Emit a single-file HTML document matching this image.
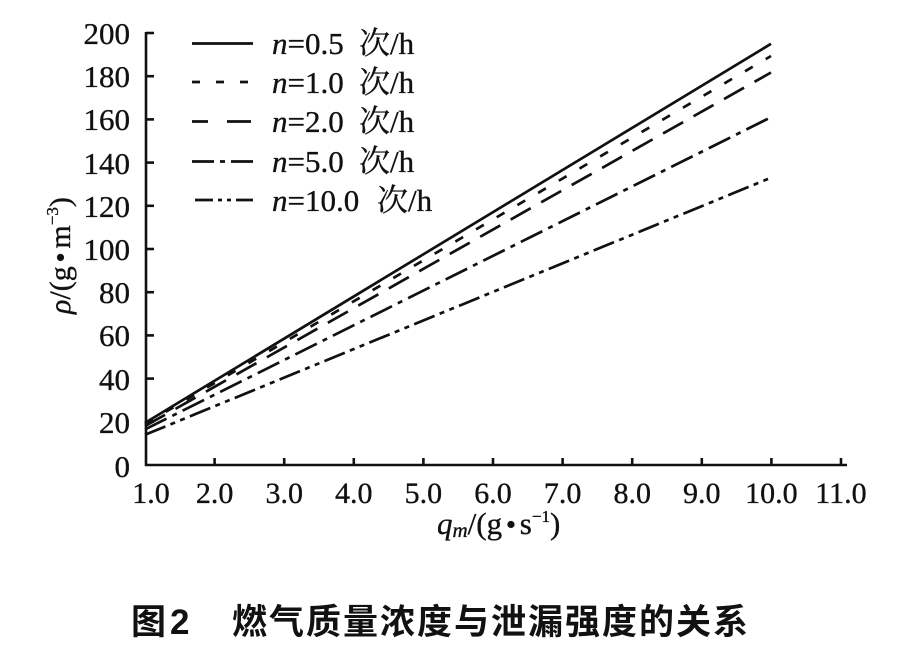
<!DOCTYPE html>
<html><head><meta charset="utf-8">
<style>
html,body{margin:0;padding:0;background:#fff;}
svg{display:block;}
.t{font-family:"Liberation Serif","Noto Serif CJK SC",serif;fill:#111;stroke:#111;stroke-width:0.35;}
.cn{font-family:"Liberation Serif","Noto Serif CJK SC",serif;}
.title{font-family:"Liberation Sans","Noto Sans CJK SC",sans-serif;font-weight:700;fill:#111;}
</style></head>
<body>
<svg width="907" height="651" viewBox="0 0 907 651" xmlns="http://www.w3.org/2000/svg">
<rect width="907" height="651" fill="#fff"/>
<!-- axes -->
<g stroke="#111" stroke-width="2.6" fill="none">
  <line x1="146" y1="32" x2="146" y2="466"/>
  <line x1="145" y1="465" x2="847" y2="465"/>
  <line x1="146" y1="33" x2="154" y2="33"/>
  <line x1="146" y1="76.2" x2="154" y2="76.2"/>
  <line x1="146" y1="119.4" x2="154" y2="119.4"/>
  <line x1="146" y1="162.6" x2="154" y2="162.6"/>
  <line x1="146" y1="205.8" x2="154" y2="205.8"/>
  <line x1="146" y1="249" x2="154" y2="249"/>
  <line x1="146" y1="292.2" x2="154" y2="292.2"/>
  <line x1="146" y1="335.4" x2="154" y2="335.4"/>
  <line x1="146" y1="378.6" x2="154" y2="378.6"/>
  <line x1="146" y1="421.8" x2="154" y2="421.8"/>
  <line x1="214.6" y1="465" x2="214.6" y2="458"/>
  <line x1="284.2" y1="465" x2="284.2" y2="458"/>
  <line x1="353.8" y1="465" x2="353.8" y2="458"/>
  <line x1="423.4" y1="465" x2="423.4" y2="458"/>
  <line x1="493" y1="465" x2="493" y2="458"/>
  <line x1="562.6" y1="465" x2="562.6" y2="458"/>
  <line x1="632.2" y1="465" x2="632.2" y2="458"/>
  <line x1="701.8" y1="465" x2="701.8" y2="458"/>
  <line x1="771.4" y1="465" x2="771.4" y2="458"/>
  <line x1="841" y1="465" x2="841" y2="458"/>
</g>
<!-- y tick labels -->
<g class="t" font-size="31" text-anchor="end">
  <text x="130" y="44">200</text>
  <text x="130" y="87">180</text>
  <text x="130" y="130">160</text>
  <text x="130" y="174">140</text>
  <text x="130" y="217">120</text>
  <text x="130" y="260">100</text>
  <text x="130" y="303">80</text>
  <text x="130" y="346">60</text>
  <text x="130" y="390">40</text>
  <text x="130" y="433">20</text>
  <text x="130" y="477">0</text>
</g>
<!-- x tick labels -->
<g class="t" font-size="30" text-anchor="middle">
  <text x="151" y="503">1.0</text>
  <text x="214.6" y="503">2.0</text>
  <text x="284.2" y="503">3.0</text>
  <text x="353.8" y="503">4.0</text>
  <text x="423.4" y="503">5.0</text>
  <text x="493" y="503">6.0</text>
  <text x="562.6" y="503">7.0</text>
  <text x="632.2" y="503">8.0</text>
  <text x="701.8" y="503">9.0</text>
  <text x="771.4" y="503">10.0</text>
  <text x="841" y="503">11.0</text>
</g>
<!-- axis labels -->
<text class="t" x="437" y="534" font-size="31"><tspan font-style="italic">q</tspan><tspan font-style="italic" font-size="21" dy="3">m</tspan><tspan dy="-3">/(g</tspan><tspan font-size="16" dy="-5"> ● </tspan><tspan dy="5">s</tspan><tspan font-size="17" dy="-12">−1</tspan><tspan dy="12">)</tspan></text>
<text class="t" transform="translate(70,314) rotate(-90)" font-size="30"><tspan font-style="italic">ρ</tspan><tspan>/(g</tspan><tspan font-size="16" dy="-5"> ● </tspan><tspan dy="5">m</tspan><tspan font-size="17" dy="-12">−3</tspan><tspan dy="12">)</tspan></text>
<!-- series -->
<g stroke="#111" stroke-width="2.7" fill="none" stroke-linecap="butt">
  <line x1="145" y1="422.9" x2="771" y2="43.8"/>
  <line x1="145" y1="424" x2="771" y2="56" stroke-dasharray="9 15"/>
  <line x1="145" y1="426.1" x2="771" y2="72.5" stroke-dasharray="23 12"/>
  <line x1="145" y1="429.4" x2="771" y2="117.2" stroke-dasharray="24 6.5 5 6.5"/>
  <line x1="145" y1="434.8" x2="771" y2="177.7" stroke-dasharray="22 5.5 5 5.5 5 5.5"/>
</g>
<!-- legend -->
<g stroke="#111" stroke-width="2.7" fill="none">
  <line x1="192" y1="43.5" x2="253" y2="43.5"/>
  <line x1="192" y1="82" x2="253" y2="82" stroke-dasharray="8 16"/>
  <line x1="192" y1="121.5" x2="253" y2="121.5" stroke-dasharray="16 19 24"/>
  <line x1="192" y1="161.5" x2="253" y2="161.5" stroke-dasharray="22 6 5 6 24"/>
  <line x1="195" y1="200" x2="253" y2="200" stroke-dasharray="18 5 4 5 4 5 20"/>
</g>
<g class="t" font-size="31">
  <text x="272" y="54"><tspan font-style="italic">n</tspan>=0.5</text>
  <text x="359" y="54" class="cn">次/h</text>
  <text x="272" y="93"><tspan font-style="italic">n</tspan>=1.0</text>
  <text x="359" y="93" class="cn">次/h</text>
  <text x="272" y="132"><tspan font-style="italic">n</tspan>=2.0</text>
  <text x="359" y="132" class="cn">次/h</text>
  <text x="272" y="172"><tspan font-style="italic">n</tspan>=5.0</text>
  <text x="359" y="172" class="cn">次/h</text>
  <text x="272" y="211"><tspan font-style="italic">n</tspan>=10.0</text>
  <text x="377" y="211" class="cn">次/h</text>
</g>
<!-- caption -->
<text class="title" x="131" y="634" font-size="35">图</text>
<text class="title" x="170" y="634" font-size="35">2</text>
<text class="title" x="232" y="634" font-size="35" textLength="516" lengthAdjust="spacing">燃气质量浓度与泄漏强度的关系</text>
</svg>
</body></html>
